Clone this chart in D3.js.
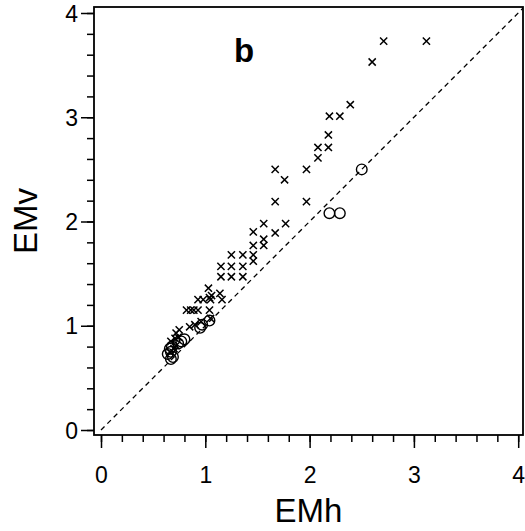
<!DOCTYPE html>
<html>
<head>
<meta charset="utf-8">
<script src="https://cdn.jsdelivr.net/npm/d3@7"></script>
<style>
  body { margin: 0; background: #fff; }
  text { font-family: "Liberation Sans", Arial, sans-serif; fill: #000; }
</style>
</head>
<body>
<svg width="525" height="531"></svg>
<script>
// crosses (x = EMh, y = EMv)
const crossX = [2.71, 3.12, 2.60, 2.39, 2.19, 2.29, 2.18, 2.08, 2.18, 2.08,
  1.67, 1.97, 1.76, 1.67, 1.97, 1.56, 1.77, 1.46, 1.67, 1.56, 1.46, 1.56,
  1.25, 1.36, 1.46, 1.46, 1.15, 1.25, 1.36, 1.15, 1.25, 1.36,
  1.03, 1.14, 1.06, 1.04, 0.93, 1.05, 1.16, 0.98,
  0.82, 0.86, 0.89, 0.93, 1.04, 1.05,
  0.96, 0.90, 0.85, 0.75, 0.72, 0.74, 0.71, 0.67, 0.72, 0.70, 0.66];
const crossY = [3.73, 3.73, 3.53, 3.12, 3.01, 3.01, 2.83, 2.71, 2.71, 2.61,
  2.50, 2.50, 2.40, 2.19, 2.19, 1.98, 1.98, 1.90, 1.89, 1.83, 1.77, 1.77,
  1.68, 1.68, 1.68, 1.62, 1.57, 1.57, 1.57, 1.47, 1.47, 1.47,
  1.36, 1.31, 1.29, 1.27, 1.25, 1.25, 1.25, 1.25,
  1.15, 1.15, 1.15, 1.15, 1.15, 1.07,
  1.04, 1.01, 0.99, 0.96, 0.93, 0.89, 0.88, 0.85, 0.81, 0.78, 0.75];

// circles
const circX = [2.50, 2.19, 2.29, 1.04, 0.97, 0.95, 0.80, 0.77, 0.74, 0.68, 0.66, 0.67, 0.64, 0.69, 0.67];
const circY = [2.50, 2.08, 2.08, 1.05, 1.01, 0.98, 0.87, 0.85, 0.83, 0.80, 0.78, 0.75, 0.73, 0.70, 0.68];

const majorTicks = [0, 1, 2, 3, 4];
const minorTicks = d3.range(0, 4.01, 0.2);

const frameL = 94, frameR = 523, frameT = 7, frameB = 435;

const svg = d3.select("svg");

const x = d3.scaleLinear().domain([0, 4]).range([101, 518.2]);
const y = d3.scaleLinear().domain([0, 4]).range([430, 13]);

// dashed 1:1 line, clipped to the frame
svg.append("clipPath").attr("id", "plotclip")
  .append("rect").attr("x", frameL).attr("y", frameT)
  .attr("width", frameR - frameL).attr("height", frameB - frameT);

svg.append("line")
  .attr("clip-path", "url(#plotclip)")
  .attr("x1", x(0)).attr("y1", y(0))
  .attr("x2", x(4.2)).attr("y2", y(4.2))
  .attr("stroke", "#000").attr("stroke-width", 1.3)
  .attr("stroke-dasharray", "5,4");

// axes
const xAxisMinor = d3.axisBottom(x).tickValues(minorTicks).tickSize(7).tickFormat("");
const xAxisMajor = d3.axisBottom(x).tickValues(majorTicks).tickSize(13).tickPadding(19).tickFormat(d3.format("d"));
const yAxisMinor = d3.axisLeft(y).tickValues(minorTicks).tickSize(7).tickFormat("");
const yAxisMajor = d3.axisLeft(y).tickValues(majorTicks).tickSize(13).tickPadding(3).tickFormat(d3.format("d"));

const gx1 = svg.append("g").attr("transform", `translate(0,${frameB})`).call(xAxisMinor);
const gx2 = svg.append("g").attr("transform", `translate(0,${frameB})`).call(xAxisMajor);
const gy1 = svg.append("g").attr("transform", `translate(${frameL},0)`).call(yAxisMinor);
const gy2 = svg.append("g").attr("transform", `translate(${frameL},0)`).call(yAxisMajor);

[gx1, gx2, gy1, gy2].forEach(g => {
  g.select(".domain").remove();
  g.selectAll("line").attr("stroke", "#000").attr("stroke-width", 1.5);
  g.selectAll("text").attr("font-size", 23).style("font-family", "Liberation Sans, Arial, sans-serif");
});
gx2.selectAll("text").attr("dy", "0.71em");
gy2.selectAll("text").attr("dy", "0.35em");

// frame
svg.append("rect")
  .attr("x", frameL).attr("y", frameT)
  .attr("width", frameR - frameL).attr("height", frameB - frameT)
  .attr("fill", "none").attr("stroke", "#000").attr("stroke-width", 1.8);

// crosses
const cs = 3.6;
const crossG = svg.append("g").attr("stroke", "#000").attr("stroke-width", 1.5);
crossX.forEach((v, i) => {
  const px = x(v), py = y(crossY[i]);
  crossG.append("path")
    .attr("d", `M${px - cs},${py - cs}L${px + cs},${py + cs}M${px - cs},${py + cs}L${px + cs},${py - cs}`);
});

// circles
svg.append("g").selectAll("circle")
  .data(circX)
  .enter()
  .append("circle")
  .attr("cx", d => x(d))
  .attr("cy", (d, i) => y(circY[i]))
  .attr("r", 5.3)
  .attr("fill", "none")
  .attr("stroke", "#000")
  .attr("stroke-width", 1.4);

// labels
svg.append("text")
  .attr("x", (frameL + frameR) / 2).attr("y", 522)
  .attr("text-anchor", "middle").attr("font-size", 33)
  .text("EMh");

svg.append("text")
  .attr("transform", `translate(37,${(frameT + frameB) / 2}) rotate(-90)`)
  .attr("text-anchor", "middle").attr("font-size", 33)
  .text("EMv");

svg.append("text")
  .attr("x", 244).attr("y", 62)
  .attr("text-anchor", "middle").attr("font-size", 33).attr("font-weight", "bold")
  .text("b");
</script>
</body>
</html>
